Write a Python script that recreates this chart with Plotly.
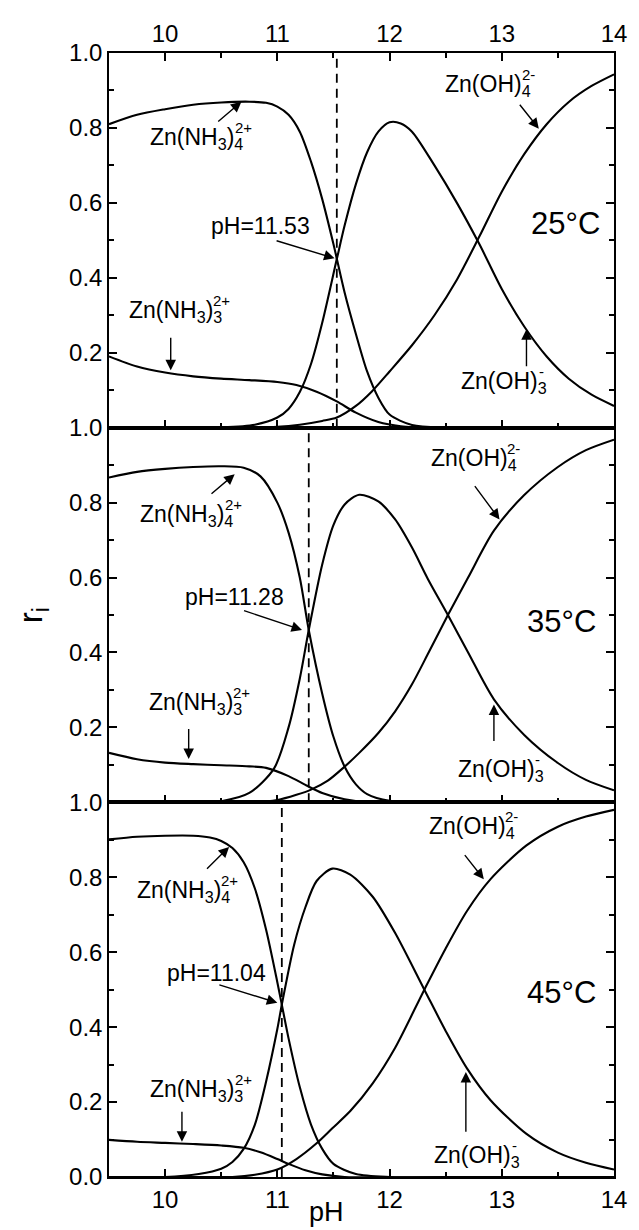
import plotly.graph_objects as go
from plotly.subplots import make_subplots

# ---------------- data ----------------
temps = ["25°C", "35°C", "45°C"]
cross_ph = [11.53, 11.28, 11.04]
cross_labels = ["pH=11.53", "pH=11.28", "pH=11.04"]

# 25 °C
ph_nh34_25 = [9.5, 9.75, 10.0, 10.25, 10.5, 10.75, 10.9, 11.0, 11.1, 11.2, 11.3, 11.4, 11.5, 11.6, 11.7, 11.8, 11.9, 12.0, 12.2, 12.5, 13.0, 14.0]
r_nh34_25 = [0.81, 0.835, 0.85, 0.862, 0.868, 0.87, 0.867, 0.857, 0.835, 0.79, 0.71, 0.61, 0.49, 0.36, 0.25, 0.15, 0.08, 0.035, 0.007, 0.0, 0.0, 0.0]
ph_nh33_25 = [9.5, 9.75, 10.0, 10.25, 10.5, 10.75, 11.0, 11.17, 11.35, 11.53, 11.7, 11.9, 12.1, 12.4, 13.0, 14.0]
r_nh33_25 = [0.19, 0.163, 0.147, 0.137, 0.131, 0.127, 0.122, 0.114, 0.096, 0.07, 0.04, 0.015, 0.004, 0.0, 0.0, 0.0]
ph_oh3_25 = [9.5, 10.0, 10.5, 10.8, 11.0, 11.1, 11.2, 11.3, 11.4, 11.53, 11.6, 11.7, 11.8, 11.9, 12.0, 12.1, 12.2, 12.4, 12.6, 12.8, 13.0, 13.2, 13.4, 13.6, 13.8, 14.0]
r_oh3_25 = [0.0, 0.0, 0.001, 0.008, 0.027, 0.05, 0.095, 0.17, 0.28, 0.45, 0.54, 0.65, 0.735, 0.79, 0.815, 0.812, 0.79, 0.70, 0.60, 0.49, 0.37, 0.27, 0.19, 0.13, 0.088, 0.058]
ph_oh4_25 = [9.5, 10.5, 10.8, 11.0, 11.2, 11.4, 11.53, 11.7, 11.84, 12.0, 12.2, 12.4, 12.6, 12.8, 13.0, 13.2, 13.4, 13.6, 13.8, 14.0]
r_oh4_25 = [0.0, 0.0, 0.0, 0.002, 0.008, 0.018, 0.027, 0.058, 0.096, 0.15, 0.22, 0.30, 0.395, 0.51, 0.63, 0.73, 0.81, 0.87, 0.912, 0.943]

# 35 °C
ph_nh34_35 = [9.5, 9.75, 10.0, 10.25, 10.5, 10.7, 10.85, 11.0, 11.1, 11.2, 11.28, 11.4, 11.5, 11.6, 11.7, 11.8, 12.0, 12.3, 13.0, 14.0]
r_nh34_35 = [0.867, 0.882, 0.89, 0.895, 0.897, 0.893, 0.87, 0.80, 0.72, 0.60, 0.46, 0.29, 0.175, 0.095, 0.048, 0.022, 0.004, 0.0, 0.0, 0.0]
ph_nh33_35 = [9.5, 9.75, 10.0, 10.25, 10.5, 10.75, 10.9, 11.1, 11.26, 11.4, 11.6, 11.8, 12.5, 14.0]
r_nh33_35 = [0.132, 0.115, 0.106, 0.102, 0.099, 0.096, 0.092, 0.07, 0.045, 0.025, 0.008, 0.0, 0.0, 0.0]
ph_oh3_35 = [9.5, 10.3, 10.5, 10.75, 10.97, 11.1, 11.2, 11.28, 11.4, 11.5, 11.6, 11.73, 11.9, 12.05, 12.2, 12.34, 12.52, 12.7, 12.93, 13.2, 13.5, 13.75, 14.0]
r_oh3_35 = [0.0, 0.0, 0.003, 0.025, 0.09, 0.2, 0.33, 0.46, 0.635, 0.74, 0.795, 0.821, 0.803, 0.755, 0.68, 0.597, 0.50, 0.40, 0.275, 0.18, 0.105, 0.06, 0.032]
ph_oh4_35 = [9.5, 10.5, 10.8, 11.0, 11.17, 11.3, 11.45, 11.58, 11.73, 11.9, 12.05, 12.2, 12.34, 12.52, 12.7, 12.93, 13.2, 13.5, 13.75, 14.0]
r_oh4_35 = [0.0, 0.0, 0.0, 0.006, 0.02, 0.034, 0.058, 0.09, 0.132, 0.185, 0.243, 0.315, 0.395, 0.50, 0.60, 0.725, 0.82, 0.895, 0.94, 0.968]

# 45 °C
ph_nh34_45 = [9.5, 9.75, 10.0, 10.25, 10.4, 10.5, 10.6, 10.7, 10.8, 10.9, 11.0, 11.04, 11.1, 11.2, 11.3, 11.4, 11.5, 11.7, 12.0, 13.0, 14.0]
r_nh34_45 = [0.901, 0.908, 0.911, 0.911, 0.906, 0.897, 0.878, 0.84, 0.77, 0.66, 0.52, 0.46, 0.37, 0.24, 0.14, 0.075, 0.035, 0.008, 0.0, 0.0, 0.0]
ph_nh33_45 = [9.5, 9.75, 10.0, 10.25, 10.5, 10.7, 10.85, 11.0, 11.1, 11.25, 11.4, 11.6, 12.5, 14.0]
r_nh33_45 = [0.099, 0.094, 0.091, 0.088, 0.084, 0.078, 0.066, 0.048, 0.035, 0.018, 0.007, 0.0, 0.0, 0.0]
ph_oh3_45 = [9.5, 10.0, 10.3, 10.5, 10.6, 10.7, 10.8, 10.9, 11.0, 11.04, 11.15, 11.25, 11.35, 11.49, 11.65, 11.85, 12.05, 12.31, 12.5, 12.69, 12.9, 13.22, 13.5, 13.75, 14.0]
r_oh3_45 = [0.0, 0.0, 0.008, 0.022, 0.04, 0.075, 0.14, 0.255, 0.395, 0.46, 0.62, 0.72, 0.79, 0.823, 0.807, 0.748, 0.651, 0.50, 0.39, 0.29, 0.205, 0.115, 0.065, 0.038, 0.02]
ph_oh4_45 = [9.5, 10.3, 10.6, 10.8, 11.0, 11.17, 11.35, 11.49, 11.65, 11.85, 12.05, 12.31, 12.5, 12.69, 12.9, 13.22, 13.5, 13.75, 14.0]
r_oh4_45 = [0.0, 0.0, 0.0, 0.006, 0.02, 0.048, 0.09, 0.13, 0.176, 0.25, 0.345, 0.50, 0.61, 0.71, 0.795, 0.885, 0.935, 0.962, 0.98]

series = [
    [(ph_nh34_25, r_nh34_25), (ph_nh33_25, r_nh33_25), (ph_oh3_25, r_oh3_25), (ph_oh4_25, r_oh4_25)],
    [(ph_nh34_35, r_nh34_35), (ph_nh33_35, r_nh33_35), (ph_oh3_35, r_oh3_35), (ph_oh4_35, r_oh4_35)],
    [(ph_nh34_45, r_nh34_45), (ph_nh33_45, r_nh33_45), (ph_oh3_45, r_oh3_45), (ph_oh4_45, r_oh4_45)],
]

# label placement per panel: (text-left pH, text y, arrow tail pH, tail y, arrow head pH, head y)
lab_nh34 = [(9.85, 0.78, 10.46, 0.814, 10.68, 0.87), (9.76, 0.773, 10.40, 0.82, 10.62, 0.876), (9.73, 0.77, 10.36, 0.819, 10.57, 0.881)]
lab_nh33 = [(9.66, 0.317, 10.05, 0.244, 10.05, 0.153), (9.84, 0.272, 10.21, 0.20, 10.21, 0.116), (9.85, 0.238, 10.15, 0.178, 10.15, 0.094)]
lab_oh4 = [(12.48, 0.921, 13.15, 0.866, 13.33, 0.798), (12.35, 0.923, 12.75, 0.848, 12.98, 0.755), (12.33, 0.942, 12.66, 0.863, 12.84, 0.795)]
lab_oh3 = [(12.62, 0.128, 13.22, 0.16, 13.22, 0.263), (12.59, 0.094, 12.93, 0.16, 12.93, 0.261), (12.38, 0.063, 12.68, 0.117, 12.68, 0.28)]
lab_cross = [(10.39, 0.538, 10.98, 0.50, 11.51, 0.452), (10.16, 0.548, 10.69, 0.513, 11.22, 0.46), (10.0, 0.545, 10.47, 0.514, 11.0, 0.465)]
lab_temp = [(13.57, 0.545), (13.53, 0.482), (13.53, 0.492)]

# ---------------- figure ----------------
FONT = "Liberation Sans, Arial, sans-serif"
MAIN = 23
SUPS = 15
W = {"Z": 611, "n": 556, "(": 333, "N": 722, "H": 722, ")": 333, "O": 778, "3": 556}

def width(s, size):
    return sum(W[c] for c in s) * size / 1000.0

fig = make_subplots(rows=3, cols=1, vertical_spacing=0)

for i in range(3):
    row = i + 1
    for xs, ys in series[i]:
        fig.add_trace(go.Scatter(x=xs, y=ys, mode="lines",
                                 line=dict(color="black", width=2.1, shape="spline", smoothing=0.8),
                                 showlegend=False, hoverinfo="skip"), row=row, col=1)
    fig.add_trace(go.Scatter(x=[cross_ph[i], cross_ph[i]], y=[0, 1], mode="lines",
                             line=dict(color="black", width=1.8, dash="9px,6px"),
                             showlegend=False, hoverinfo="skip"), row=row, col=1)

def refs(row):
    s = "" if row == 1 else str(row)
    return "x" + s, "y" + s

def arrow(row, tx, ty, hx, hy):
    xr, yr = refs(row)
    fig.add_annotation(x=hx, y=hy, ax=tx, ay=ty, xref=xr, yref=yr, axref=xr, ayref=yr,
                       text="", showarrow=True, arrowhead=2, arrowsize=1.5, arrowwidth=1.4,
                       arrowcolor="black", standoff=0, startstandoff=0)

def text(row, x, y, t, size, xanchor="left", xshift=0, yshift=0):
    xr, yr = refs(row)
    fig.add_annotation(x=x, y=y, xref=xr, yref=yr, text=t, showarrow=False,
                       xanchor=xanchor, yanchor="middle", xshift=xshift, yshift=yshift,
                       font=dict(family=FONT, size=size, color="black"))

SUBX_NH = width("Zn(NH", MAIN) + width("3", MAIN * 0.7) + width(")", MAIN)
SUBX_OH = width("Zn(OH)", MAIN)

for i in range(3):
    row = i + 1
    # Zn(NH3)4 2+
    x0, y0, tx, ty, hx, hy = lab_nh34[i]
    text(row, x0, y0, "Zn(NH<sub>3</sub>)<sub>4</sub>", MAIN, yshift=-3)
    text(row, x0, y0, "2+", SUPS, xshift=SUBX_NH, yshift=8)
    arrow(row, tx, ty, hx, hy)
    # Zn(NH3)3 2+
    x0, y0, tx, ty, hx, hy = lab_nh33[i]
    text(row, x0, y0, "Zn(NH<sub>3</sub>)<sub>3</sub>", MAIN, yshift=-3)
    text(row, x0, y0, "2+", SUPS, xshift=SUBX_NH, yshift=8)
    arrow(row, tx, ty, hx, hy)
    # Zn(OH)4 2-
    x0, y0, tx, ty, hx, hy = lab_oh4[i]
    text(row, x0, y0, "Zn(OH)<sub>4</sub>", MAIN, yshift=-3)
    text(row, x0, y0, "2-", SUPS, xshift=SUBX_OH, yshift=8)
    arrow(row, tx, ty, hx, hy)
    # Zn(OH)3 -
    x0, y0, tx, ty, hx, hy = lab_oh3[i]
    text(row, x0, y0, "Zn(OH)<sub>3</sub>", MAIN, yshift=-3)
    text(row, x0, y0, "-", SUPS, xshift=SUBX_OH + 1, yshift=8)
    arrow(row, tx, ty, hx, hy)
    # crossing label
    x0, y0, tx, ty, hx, hy = lab_cross[i]
    text(row, x0, y0, cross_labels[i], MAIN)
    arrow(row, tx, ty, hx, hy)
    # temperature
    text(row, lab_temp[i][0], lab_temp[i][1], temps[i], 31, xanchor="center")

# axis titles
fig.add_annotation(x=-0.15, y=0.5, xref="paper", yref="paper", text="r<sub>i</sub>", showarrow=False,
                   textangle=-90, xanchor="center", yanchor="middle",
                   font=dict(family=FONT, size=33, color="black"))
fig.add_annotation(x=0.431, y=-0.031, xref="paper", yref="paper", text="pH", showarrow=False,
                   xanchor="center", yanchor="middle",
                   font=dict(family=FONT, size=27, color="black"))

tickfont = dict(family=FONT, size=24, color="black")
for i in range(3):
    row = i + 1
    xa = dict(range=[9.5, 14], tickmode="linear", tick0=10, dtick=1, ticks="inside", ticklen=8,
              tickwidth=1.5, linewidth=1.5, linecolor="black", tickcolor="black", showgrid=False,
              zeroline=False, tickfont=tickfont,
              minor=dict(dtick=0.5, tick0=9.5, ticks="inside", ticklen=5, tickwidth=1.5, tickcolor="black", showgrid=False))
    if row == 1:
        xa.update(side="top", mirror="ticks", showticklabels=True)
    elif row == 2:
        xa.update(mirror=True, showticklabels=False)
    else:
        xa.update(mirror=True, showticklabels=True)
    fig.update_xaxes(row=row, col=1, **xa)
    yvals = [0.2, 0.4, 0.6, 0.8, 1.0] if row < 3 else [0.0, 0.2, 0.4, 0.6, 0.8, 1.0]
    fig.update_yaxes(row=row, col=1, range=[0, 1], tickmode="array", tickvals=yvals,
                     ticktext=["%.1f" % v for v in yvals], ticks="inside", ticklen=8, tickwidth=1.5,
                     linewidth=1.5, linecolor="black", tickcolor="black", mirror="ticks",
                     showgrid=False, zeroline=False, tickfont=tickfont,
                     minor=dict(tickmode="array", tickvals=[0.1, 0.3, 0.5, 0.7, 0.9], ticks="inside",
                                ticklen=5, tickwidth=1.5, tickcolor="black", showgrid=False))

# the page adds an 8 px body margin, so the figure is 8 px smaller and margins shifted
fig.update_layout(width=631, height=1222, margin=dict(l=101, r=16, t=35, b=53),
                  plot_bgcolor="white", paper_bgcolor="white", showlegend=False,
                  font=dict(family=FONT, color="black"))

fig.write_html("out.html")
